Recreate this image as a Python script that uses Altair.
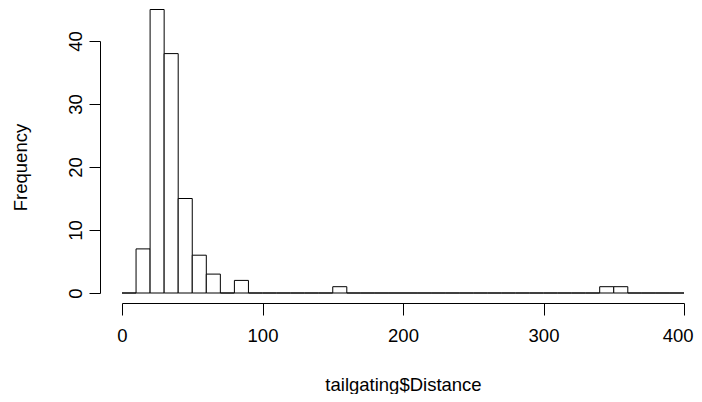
import altair as alt
import pandas as pd

bin_starts = list(range(0, 400, 10))
counts = [0, 7, 45, 38, 15, 6, 3, 0, 2, 0,
          0, 0, 0, 0, 0, 1, 0, 0, 0, 0,
          0, 0, 0, 0, 0, 0, 0, 0, 0, 0,
          0, 0, 0, 0, 1, 1, 0, 0, 0, 0]
bin_width = 10
x_ticks = [0, 100, 200, 300, 400]
y_ticks = [0, 10, 20, 30, 40]

df = pd.DataFrame({
    "start": bin_starts,
    "end": [s + bin_width for s in bin_starts],
    "count": counts,
})

FONT = "Liberation Sans"
FS = 18.5
last_x = "datum.value == 400"

chart = alt.Chart(df).mark_rect(
    fill="white", stroke="black", strokeWidth=1, clip=False
).encode(
    x=alt.X("start:Q",
            scale=alt.Scale(domain=[0, 400], nice=False, zero=False),
            axis=alt.Axis(values=x_ticks, title="tailgating$Distance", grid=False,
                          offset=10, tickSize=12, labelPadding=11,
                          labelAlign={"condition": {"test": last_x, "value": "right"}, "value": "center"},
                          labelOffset={"condition": {"test": last_x, "value": 9}, "value": 0},
                          labelFontSize=FS, titleFontSize=FS, titleFontWeight="normal",
                          titleX=281, titleY=81, titleBaseline="middle",
                          domainColor="black", tickColor="black", labelColor="black",
                          titleColor="black", labelFont=FONT, titleFont=FONT,
                          labelFlush=False)),
    x2="end:Q",
    y=alt.Y("count:Q",
            scale=alt.Scale(domain=[0, 40], nice=False),
            axis=alt.Axis(values=y_ticks, title="Frequency", grid=False,
                          offset=22, tickSize=11, labelPadding=4, labelAngle=270,
                          labelAlign="center", labelBaseline="bottom",
                          labelFontSize=FS, titleFontSize=FS, titleFontWeight="normal",
                          titleAngle=270, titleX=-80, titleY=126,
                          titleAlign="center", titleBaseline="middle",
                          domainColor="black", tickColor="black", labelColor="black",
                          titleColor="black", labelFont=FONT, titleFont=FONT,
                          labelFlush=False)),
    y2=alt.datum(0),
).properties(
    width=562, height=252,
    autosize=alt.AutoSizeParams(type="none"),
    padding={"left": 114, "top": 33, "right": 10, "bottom": 101},
).configure(background="white").configure_view(strokeWidth=0, stroke="transparent")

chart.save("out.html", embed_options={"renderer": "svg", "actions": False})
